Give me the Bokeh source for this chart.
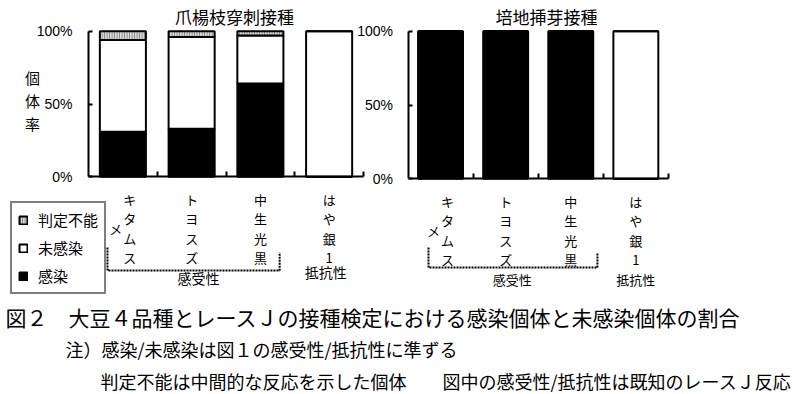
from bokeh.plotting import figure
from bokeh.models import (Range1d, LinearAxis, FixedTicker, Legend, LegendItem,
                          ColumnDataSource)
from bokeh.core.properties import value
from bokeh.embed import file_html
from bokeh.resources import INLINE

# ---------------- data ----------------
varieties = ["キタムスメ", "トヨスズ", "中生光黒", "はや銀1"]
panel_titles = ["爪楊枝穿刺接種", "培地挿芽接種"]
series_names = ["感染", "未感染", "判定不能"]
group_labels = ["感受性", "抵抗性"]
y_axis_title = "個体率"

# 爪楊枝穿刺接種 (%)
tp_infected = [31, 33, 64, 0]
tp_uninfected = [63, 63, 33, 100]
tp_undetermined = [6, 4, 3, 0]

# 培地挿芽接種 (%)
md_infected = [100, 100, 100, 0]
md_uninfected = [0, 0, 0, 100]
md_undetermined = [0, 0, 0, 0]

y_ticks = [0, 50, 100]
y_tick_labels = ["0%", "50%", "100%"]

caption_lines = [
    "図２　大豆４品種とレースＪの接種検定における感染個体と未感染個体の割合",
    "注）感染/未感染は図１の感受性/抵抗性に準ずる",
    "判定不能は中間的な反応を示した個体　　図中の感受性/抵抗性は既知のレースＪ反応",
]

# ---------------- layout helpers ----------------
JP = "Noto Sans CJK JP"
W, H, M = 800, 394, 0


def x_range_for(axis_px, unit_px):
    return Range1d((M - axis_px) / unit_px, (M + W - axis_px) / unit_px)


def y_range_for(zero_px, top_px):
    unit = (zero_px - top_px) / 100.0
    return Range1d((zero_px - (M + H)) / unit, (zero_px - M) / unit)


p = figure(width=W, height=H, title=None,
           x_range=x_range_for(88, 68.75), y_range=y_range_for(176.3, 30.7),
           x_axis_type=None, y_axis_type=None,
           toolbar_location=None, output_backend="svg", min_border=0)
p.outline_line_color = None
p.background_fill_color = "white"
p.border_fill_color = "white"
p.extra_x_ranges = {"r": x_range_for(407.5, 65.1), "px": Range1d(M, M + W)}
p.extra_y_ranges = {"r": y_range_for(178.3, 30.7), "px": Range1d(M + H, M)}

xs = [i + 0.5 for i in range(len(varieties))]
fills = ["black", "white", "#d8d8d8"]
hatches = [" ", " ", "|"]

src_l = ColumnDataSource(dict(x=xs, inf=tp_infected, unc=tp_uninfected, und=tp_undetermined))
src_r = ColumnDataSource(dict(x=xs, inf=md_infected, unc=md_uninfected, und=md_undetermined))

rl = p.vbar_stack(["inf", "unc", "und"], x="x", width=0.67, source=src_l,
                  fill_color=fills, hatch_pattern=hatches, hatch_color="#7a7a7a",
                  hatch_scale=2.5, hatch_weight=1, line_color="black", line_width=2)
rr = p.vbar_stack(["inf", "unc", "und"], x="x", width=0.69, source=src_r,
                  x_range_name="r", y_range_name="r",
                  fill_color=fills, hatch_pattern=hatches, hatch_color="#7a7a7a",
                  hatch_scale=2.5, hatch_weight=1, line_color="black", line_width=2)

# ---------------- axes ----------------
overrides = dict(zip(y_ticks, y_tick_labels))


def y_axis(xr, yr, standoff):
    ax = LinearAxis(fixed_location=0, bounds=(0, 100), ticker=FixedTicker(ticks=y_ticks),
                    major_label_overrides=overrides, x_range_name=xr, y_range_name=yr,
                    axis_line_width=2, axis_line_color="black",
                    major_tick_line_width=2, major_tick_in=4, major_tick_out=0,
                    minor_tick_in=0, minor_tick_out=0,
                    major_label_standoff=standoff,
                    major_label_text_font="Liberation Sans",
                    major_label_text_font_size="14px",
                    major_label_text_color="black")
    p.add_layout(ax, "left")


def x_axis(xr, yr):
    n = len(varieties)
    ticks = list(range(1, n + 1))
    ax = LinearAxis(fixed_location=0, bounds=(0, n), ticker=FixedTicker(ticks=ticks),
                    major_label_overrides={t: "" for t in ticks},
                    x_range_name=xr, y_range_name=yr,
                    axis_line_width=2, axis_line_color="black",
                    major_tick_line_width=2, major_tick_in=5, major_tick_out=0,
                    minor_tick_in=0, minor_tick_out=0,
                    major_label_text_font_size="1px")
    p.add_layout(ax, "below")


y_axis("default", "default", 16)
x_axis("default", "default")
y_axis("r", "r", 15)
x_axis("r", "r")

# ---------------- texts ----------------
p.text(x=[234, 546], y=[16, 16], text=panel_titles, x_range_name="px", y_range_name="px",
       text_align="center", text_baseline="middle", text_font=value(JP),
       text_font_size="17px", text_color="black")

p.text(x=[32], y=[100], text=["\n".join(y_axis_title)], x_range_name="px", y_range_name="px",
       text_align="center", text_baseline="middle", text_font=value(JP),
       text_font_size="15px", text_line_height=1.08, text_color="black")

col1 = ["\n".join(v[:4]) for v in varieties]
col1_off = [7 if len(v) > 4 else 0 for v in varieties]
col2_x = [xs[i] for i, v in enumerate(varieties) if len(v) > 4]
col2 = ["\n".join(v[4:]) for v in varieties if len(v) > 4]

for xr, ymid, fs in [("default", 228, "13px"), ("r", 230, "13px")]:
    p.text(x=xs, y=[ymid] * len(xs), text=col1, x_offset=col1_off,
           x_range_name=xr, y_range_name="px",
           text_align="center", text_baseline="middle", text_font=value(JP),
           text_font_size=fs, text_line_height=1.03, text_color="black")
    p.text(x=col2_x, y=[ymid] * len(col2_x), text=col2, x_offset=-7,
           x_range_name=xr, y_range_name="px",
           text_align="center", text_baseline="middle", text_font=value(JP),
           text_font_size=fs, text_color="black")

# group labels and dotted brackets
p.text(x=[1.6, 3.45], y=[277, 271], text=group_labels, x_range_name="default", y_range_name="px",
       text_align="center", text_baseline="middle", text_font=value(JP),
       text_font_size="14px", text_color="black")
p.text(x=[1.6, 3.5], y=[279, 279], text=group_labels, x_range_name="r", y_range_name="px",
       text_align="center", text_baseline="middle", text_font=value(JP),
       text_font_size="13px", text_color="black")

p.line(x=[0.276, 0.276, 2.78, 2.78], y=[247, 270, 270, 252], x_range_name="default",
       y_range_name="px", line_color="black", line_width=2, line_dash="2 1")
p.line(x=[0.315, 0.315, 2.91, 2.91], y=[247, 267, 267, 253], x_range_name="r",
       y_range_name="px", line_color="black", line_width=2, line_dash="2 1")

# captions
p.text(x=[5], y=[316], text=[caption_lines[0]], x_range_name="px", y_range_name="px",
       text_align="left", text_baseline="middle", text_font=value(JP),
       text_font_size="21px", text_color="black")
p.text(x=[65, 100], y=[348, 380], text=caption_lines[1:], x_range_name="px", y_range_name="px",
       text_align="left", text_baseline="middle", text_font=value(JP),
       text_font_size="18px", text_color="black")

# ---------------- legend ----------------
legend = Legend(items=[LegendItem(label=series_names[2], renderers=[rl[2]]),
                       LegendItem(label=series_names[1], renderers=[rl[1]]),
                       LegendItem(label=series_names[0], renderers=[rl[0]])],
                location=(10, 100), border_line_color="black", border_line_width=2,
                glyph_width=10, glyph_height=10, label_height=20, label_standoff=10,
                spacing=7, padding=6, margin=0,
                label_text_font=JP, label_text_font_size="15px",
                label_text_color="black", background_fill_color="white",
                background_fill_alpha=1)
p.add_layout(legend)

open("out.html", "w").write(file_html(p, INLINE))
